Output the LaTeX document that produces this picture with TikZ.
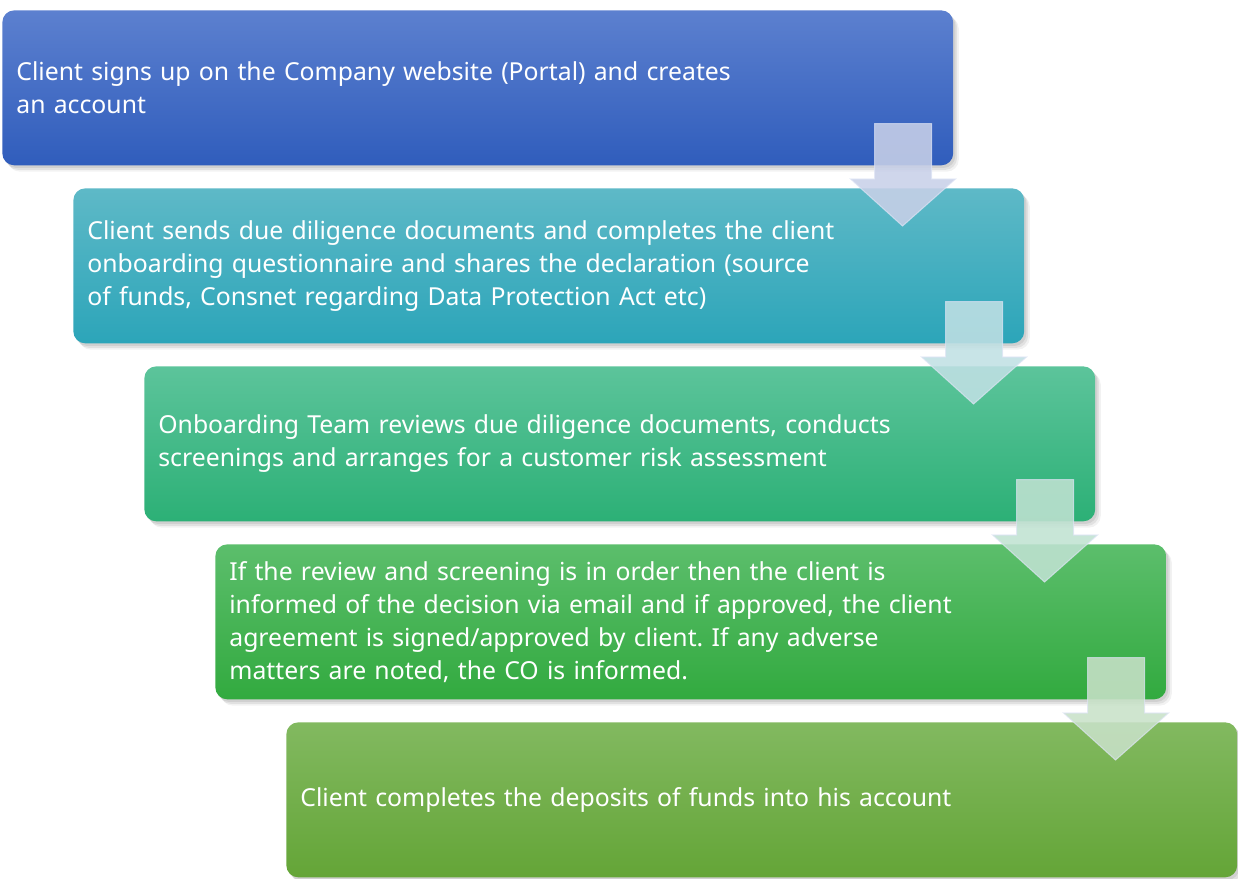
\documentclass[tikz,border=0pt]{standalone}
\usepackage{fontspec}
\setmainfont{Noto Sans}
\frenchspacing
\usetikzlibrary{calc,shadows}
\def\pxu{0.569055pt}
\definecolor{c1t}{RGB}{92,128,207}\definecolor{c1b}{RGB}{48,93,188}
\definecolor{c2t}{RGB}{94,185,199}\definecolor{c2b}{RGB}{44,165,185}
\definecolor{c3t}{RGB}{92,196,155}\definecolor{c3b}{RGB}{44,176,118}
\definecolor{c4t}{RGB}{92,190,108}\definecolor{c4b}{RGB}{50,170,63}
\definecolor{c5t}{RGB}{130,185,96}\definecolor{c5b}{RGB}{100,165,55}
\definecolor{a1}{RGB}{200,208,232}
\definecolor{a2}{RGB}{192,224,228}
\definecolor{a3}{RGB}{192,226,210}
\definecolor{a4}{RGB}{200,225,200}
\definecolor{aedge}{RGB}{222,228,245}
\tikzset{
  flowbox/.style={rectangle, rounded corners=6.8pt, anchor=north west,
    minimum width=541.17pt, minimum height=88.2pt, text width=525.24pt,
    inner xsep=7.97pt, inner ysep=0pt, align=left, text=white,
    font=\fontsize{14.1}{18.8}\selectfont,
    drop shadow={shadow xshift=1.2pt, shadow yshift=-1.5pt, opacity=0.18},
    drop shadow={shadow xshift=2.2pt, shadow yshift=-2.6pt, opacity=0.15},
    drop shadow={shadow xshift=3.2pt, shadow yshift=-3.6pt, opacity=0.10}},
  flowarr/.style={fill opacity=0.88, draw=aedge, draw opacity=0.7, line width=0.6pt, line join=miter}
}
\newcommand\flowarrow[3]{%
  \path[flowarr,fill=#3] let \p1=(#1.south east), \p2=(#2.north) in
    (\x1-79*\pxu,\y1+42*\pxu) -- (\x1-22*\pxu,\y1+42*\pxu)
    -- (\x1-22*\pxu,\y2+9*\pxu) -- (\x1+2*\pxu,\y2+9*\pxu)
    -- (\x1-51*\pxu,\y2-38*\pxu) -- (\x1-103*\pxu,\y2+9*\pxu)
    -- (\x1-79*\pxu,\y2+9*\pxu) -- cycle;}
\begin{document}
\begin{tikzpicture}[x=0.02cm,y=-0.02cm]
\useasboundingbox (0,0) rectangle (1238,879);
\node[flowbox, top color=c1t, bottom color=c1b] (b1) at (2,10)
  {Client signs up on the Company website (Portal) and creates\\an account};
\node[flowbox, top color=c2t, bottom color=c2b] (b2) at (73,188)
  {Client sends due diligence documents and completes the client\\onboarding questionnaire and shares the declaration (source\\of funds, Consnet regarding Data Protection Act etc)};
\flowarrow{b1}{b2}{a1}
\node[flowbox, top color=c3t, bottom color=c3b] (b3) at (144,366)
  {Onboarding Team reviews due diligence documents, conducts\\screenings and arranges for a customer risk assessment};
\flowarrow{b2}{b3}{a2}
\node[flowbox, top color=c4t, bottom color=c4b] (b4) at (215,544)
  {If the review and screening is in order then the client is\\informed of the decision via email and if approved, the client\\agreement is signed/approved by client. If any adverse\\matters are noted, the CO is informed.};
\flowarrow{b3}{b4}{a3}
\node[flowbox, top color=c5t, bottom color=c5b] (b5) at (286,722)
  {Client completes the deposits of funds into his account};
\flowarrow{b4}{b5}{a4}
\end{tikzpicture}
\end{document}
